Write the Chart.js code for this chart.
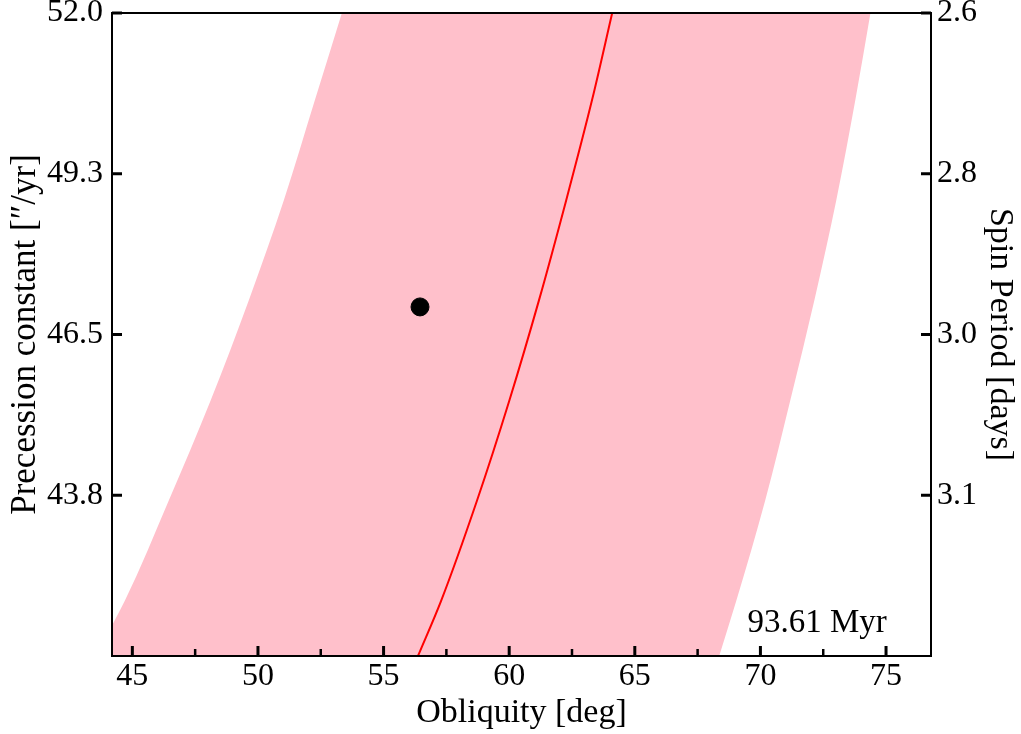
<!DOCTYPE html>
<html>
<head>
<meta charset="utf-8">
<script src="https://cdn.jsdelivr.net/npm/chart.js@4/dist/chart.umd.min.js"></script>
<style>
  html, body { margin: 0; padding: 0; background: #fff; }
  #wrap { width: 1021px; height: 734px; }
</style>
</head>
<body>
<div id="wrap"><canvas id="chart" width="1021" height="734"></canvas></div>
<script>
// Axis ranges and ticks
const obliquityRange = [44.19, 76.79];
const precessionRange = [41.04, 52.0];
const obliquityTicks = [45, 50, 55, 60, 65, 70, 75];
const obliquityMinorTicks = [47.5, 52.5, 57.5, 62.5, 67.5, 72.5];
const precessionTicks = [43.78, 46.52, 49.26, 52.0];
const spinPeriodLabels = ['3.1', '3.0', '2.8', '2.6'];

// Allowed band and best-fit curve, sampled at these precession constants
const bandPrecession = [41.04, 41.98, 43.69, 45.40, 47.11, 48.81, 50.52, 52.0];
const bandLowObliquity = [43.52, 44.70, 46.45, 48.12, 49.64, 51.03, 52.27, 53.34];
const bandHighObliquity = [68.36, 69.04, 70.19, 71.19, 72.15, 73.02, 73.78, 74.38];
const curveObliquity = [56.37, 57.29, 58.72, 60.01, 61.19, 62.27, 63.30, 64.10];

// Measured point
const pointObliquity = 56.45;
const pointPrecession = 46.99;
const ageLabel = '93.61 Myr';

const FONT = '"Liberation Serif", "Times New Roman", serif';

const toPoints = xs => bandPrecession.map((p, i) => ({ x: xs[i], y: p }));

// fixed axis boxes, no extra room for label overhang
const fixBox = size => s => {
    if (s.isHorizontal()) s.height = size; else s.width = size;
    s.paddingTop = 0; s.paddingBottom = 0; s.paddingLeft = 0; s.paddingRight = 0;
};

// inward ticks, frame and the age label
const framePlugin = {
    id: 'frame',
    afterDatasetsDraw(chart) {
        const { ctx, chartArea: a, scales } = chart;
        ctx.save();
        ctx.strokeStyle = '#000';
        ctx.lineCap = 'butt';

        ctx.lineWidth = 3;
        obliquityTicks.forEach(v => {
            const px = scales.x.getPixelForValue(v);
            ctx.beginPath(); ctx.moveTo(px, a.bottom); ctx.lineTo(px, a.bottom - 10); ctx.stroke();
        });
        precessionTicks.forEach(v => {
            const py = scales.y.getPixelForValue(v);
            ctx.beginPath(); ctx.moveTo(a.left, py); ctx.lineTo(a.left + 10, py); ctx.stroke();
            ctx.beginPath(); ctx.moveTo(a.right, py); ctx.lineTo(a.right - 10, py); ctx.stroke();
        });
        ctx.lineWidth = 2.5;
        obliquityMinorTicks.forEach(v => {
            const px = scales.x.getPixelForValue(v);
            ctx.beginPath(); ctx.moveTo(px, a.bottom); ctx.lineTo(px, a.bottom - 7); ctx.stroke();
        });

        ctx.lineWidth = 2;
        ctx.strokeRect(a.left, a.top, a.right - a.left, a.bottom - a.top);

        ctx.fillStyle = '#000';
        ctx.font = '33px ' + FONT;
        ctx.textAlign = 'right';
        ctx.textBaseline = 'alphabetic';
        ctx.fillText(ageLabel, a.left + 0.946 * (a.right - a.left), a.bottom - 0.037 * (a.bottom - a.top));
        ctx.restore();
    }
};

const tickFont = { family: FONT, size: 32 };

new Chart(document.getElementById('chart'), {
    type: 'scatter',
    data: {
        datasets: [
            {
                data: [{ x: pointObliquity, y: pointPrecession }],
                backgroundColor: '#000',
                borderColor: '#000',
                pointRadius: 9,
                pointHoverRadius: 9
            },
            {
                data: toPoints(curveObliquity),
                showLine: true,
                borderColor: '#ff0000',
                borderWidth: 2,
                cubicInterpolationMode: 'monotone',
                pointRadius: 0,
                fill: false
            },
            {
                data: toPoints(bandLowObliquity),
                showLine: true,
                borderWidth: 0,
                borderColor: 'rgba(0,0,0,0)',
                cubicInterpolationMode: 'monotone',
                pointRadius: 0,
                fill: false
            },
            {
                data: toPoints(bandHighObliquity),
                showLine: true,
                borderWidth: 0,
                borderColor: 'rgba(0,0,0,0)',
                backgroundColor: '#ffc0cb',
                cubicInterpolationMode: 'monotone',
                pointRadius: 0,
                fill: '-1'
            }
        ]
    },
    options: {
        indexAxis: 'y',
        responsive: false,
        animation: false,
        events: [],
        layout: { padding: { top: 13, left: 0, right: 0, bottom: 0 } },
        plugins: {
            legend: { display: false },
            tooltip: { enabled: false }
        },
        scales: {
            x: {
                type: 'linear',
                position: 'bottom',
                min: obliquityRange[0],
                max: obliquityRange[1],
                afterBuildTicks: s => { s.ticks = obliquityTicks.map(v => ({ value: v })); },
                afterFit: fixBox(78),
                grid: { display: false, drawTicks: false },
                border: { display: false },
                ticks: { font: tickFont, color: '#000', padding: 1, maxRotation: 0 },
                title: { display: true, text: 'Obliquity [deg]', font: { family: FONT, size: 34 }, color: '#000', padding: { top: 0, bottom: 1 } }
            },
            y: {
                type: 'linear',
                position: 'left',
                min: precessionRange[0],
                max: precessionRange[1],
                afterBuildTicks: s => { s.ticks = precessionTicks.map(v => ({ value: v })); },
                afterFit: fixBox(112),
                grid: { display: false, drawTicks: false },
                border: { display: false },
                ticks: { font: tickFont, color: '#000', padding: 9, callback: v => v.toFixed(1) },
                title: { display: true, text: 'Precession constant [″/yr]', font: { family: FONT, size: 35 }, color: '#000', padding: { top: 5, bottom: 0 } }
            },
            y2: {
                type: 'linear',
                position: 'right',
                min: precessionRange[0],
                max: precessionRange[1],
                afterBuildTicks: s => { s.ticks = precessionTicks.map(v => ({ value: v })); },
                afterFit: fixBox(90),
                grid: { display: false, drawTicks: false },
                border: { display: false },
                ticks: { font: tickFont, color: '#000', padding: 6, callback: (v, i) => spinPeriodLabels[i] },
                title: { display: true, text: 'Spin Period [days]', font: { family: FONT, size: 34 }, color: '#000', padding: { top: 1, bottom: 0 } }
            }
        }
    },
    plugins: [framePlugin]
});
</script>
</body>
</html>
